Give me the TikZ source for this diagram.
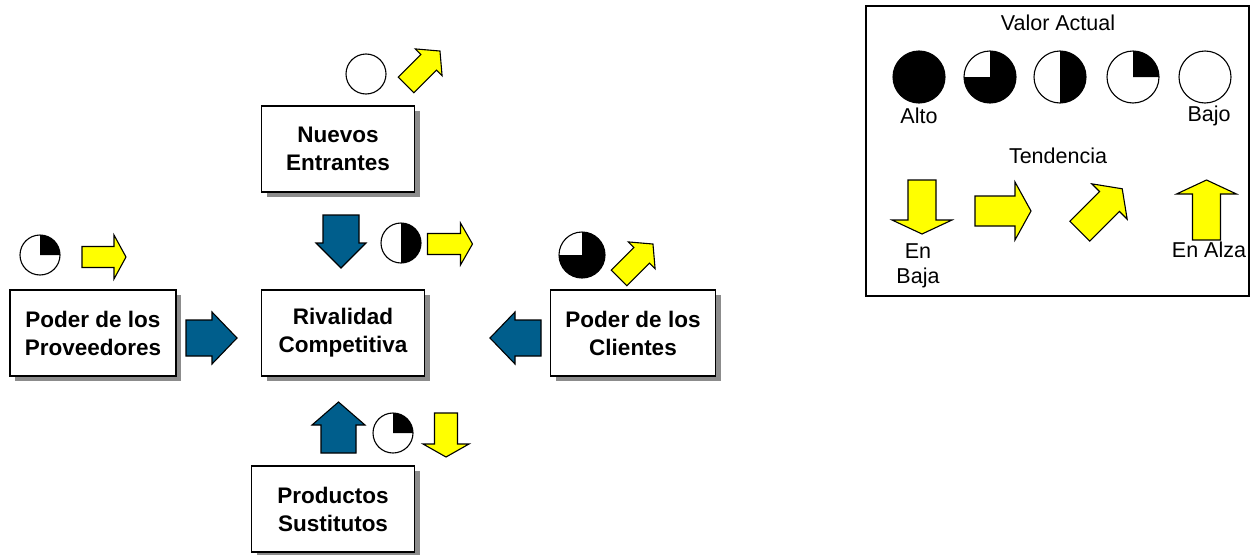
\documentclass[tikz,border=0pt]{standalone}
\usepackage{fontspec}
\setmainfont{Liberation Sans}
\usetikzlibrary{shadows}
\definecolor{porterblue}{RGB}{0,94,140}
\definecolor{porteryellow}{RGB}{255,255,0}
\newcommand\blockarr[8]{%
 \begin{scope}[shift={(#2,#3)},rotate=#4]
 \draw[line width=1.1pt, fill=#1, line join=miter] ({-#5/2},{-#6/2}) -- ({#5/2-#8},{-#6/2}) -- ({#5/2-#8},{-#7/2}) -- ({#5/2},0) -- ({#5/2-#8},{#7/2}) -- ({#5/2-#8},{#6/2}) -- ({-#5/2},{#6/2}) -- cycle;
 \end{scope}}
\newcommand\piecirc[4]{% x, y, r, black part
 \fill[white] (#1,#2) circle[radius=#3];
 #4
 \draw[line width=1.1pt] (#1,#2) circle[radius=#3];}
\tikzset{
 forcebox/.style={draw, line width=1.3pt, fill=white, minimum width=153pt, minimum height=86pt,
   align=center, font=\fontsize{22.5}{28}\selectfont\bfseries,
   drop shadow={shadow xshift=5pt, shadow yshift=-5pt, fill=black!45, opacity=1}},
 legtext/.style={font=\fontsize{21.5}{25}\selectfont, inner sep=0pt, align=center}
}
\begin{document}
\begin{tikzpicture}[x=1pt,y=1pt]
\useasboundingbox[fill=white] (0,0) rectangle (1252,-554);
% boxes
\node[forcebox] (nuevos) at (338,-149) {Nuevos\\Entrantes};
\node[forcebox, minimum width=163pt] (rival) at (343,-333) {Rivalidad\\Competitiva};
\node[forcebox, minimum width=166pt] (prov) at (93,-333) {Poder de los\\Proveedores};
\node[forcebox, minimum width=165pt] (cli) at (633,-333) {Poder de los\\Clientes};
\node[forcebox, minimum width=163pt] (sust) at (333,-509) {Productos\\Sustitutos};
% blue arrows
\blockarr{porterblue}{341}{-241.5}{-90}{53}{36}{50}{25}
\blockarr{porterblue}{211.5}{-338}{0}{51}{36}{52}{25}
\blockarr{porterblue}{515.5}{-338}{180}{51}{36}{52}{25}
\blockarr{porterblue}{338.5}{-427.5}{90}{51}{35}{53}{23}
% current value circles
\piecirc{366}{-74}{20}{}
\piecirc{40}{-255}{20}{\fill (40,-255) -- ++(20,0) arc[start angle=0,end angle=90,radius=20] -- cycle;}
\piecirc{401}{-243}{20}{\fill (401,-243) -- ++(0,-20) arc[start angle=-90,end angle=90,radius=20] -- cycle;}
\piecirc{582}{-255}{23}{\fill (582,-255) -- ++(-23,0) arc[start angle=180,end angle=450,radius=23] -- cycle;}
\piecirc{393}{-433}{20}{\fill (393,-433) -- ++(20,0) arc[start angle=0,end angle=90,radius=20] -- cycle;}
% trend arrows
\blockarr{porteryellow}{423}{-68}{45}{48}{22}{38}{16}
\blockarr{porteryellow}{104}{-257}{0}{44}{21}{44}{12}
\blockarr{porteryellow}{450}{-244}{0}{45}{21}{42}{12}
\blockarr{porteryellow}{636}{-261}{45}{48}{22}{38}{16}
\blockarr{porteryellow}{446}{-435}{-90}{44}{23}{46}{13}
% legend
\node[draw, line width=1.6pt, minimum width=383pt, minimum height=290pt, inner sep=0pt] (legend) at (1057.5,-151) {};
\node[legtext] (va) at (1058,-23) {Valor Actual};
\piecirc{919}{-77}{26}{\fill (919,-77) circle[radius=26];}
\piecirc{990}{-77}{26}{\fill (990,-77) -- ++(-26,0) arc[start angle=180,end angle=450,radius=26] -- cycle;}
\piecirc{1060}{-77}{26}{\fill (1060,-77) -- ++(0,-26) arc[start angle=-90,end angle=90,radius=26] -- cycle;}
\piecirc{1133}{-77}{26}{\fill (1133,-77) -- ++(26,0) arc[start angle=0,end angle=90,radius=26] -- cycle;}
\piecirc{1205}{-77}{26}{}
\node[legtext] (alto) at (919,-116) {Alto};
\node[legtext] (bajo) at (1209,-116) {Bajo};
\node[legtext] (tend) at (1058,-156) {Tendencia};
\blockarr{porteryellow}{922}{-207}{-90}{54}{28}{60}{14}
\blockarr{porteryellow}{1003}{-211}{0}{56}{30}{58}{16}
\blockarr{porteryellow}{1101}{-210}{45}{60}{28}{50}{18}
\blockarr{porteryellow}{1206.5}{-210}{90}{60}{28}{60}{14}
\node[legtext] (enbaja) at (918,-266) {En\\Baja};
\node[legtext] (enalza) at (1209,-250) {En Alza};
\end{tikzpicture}
\end{document}
